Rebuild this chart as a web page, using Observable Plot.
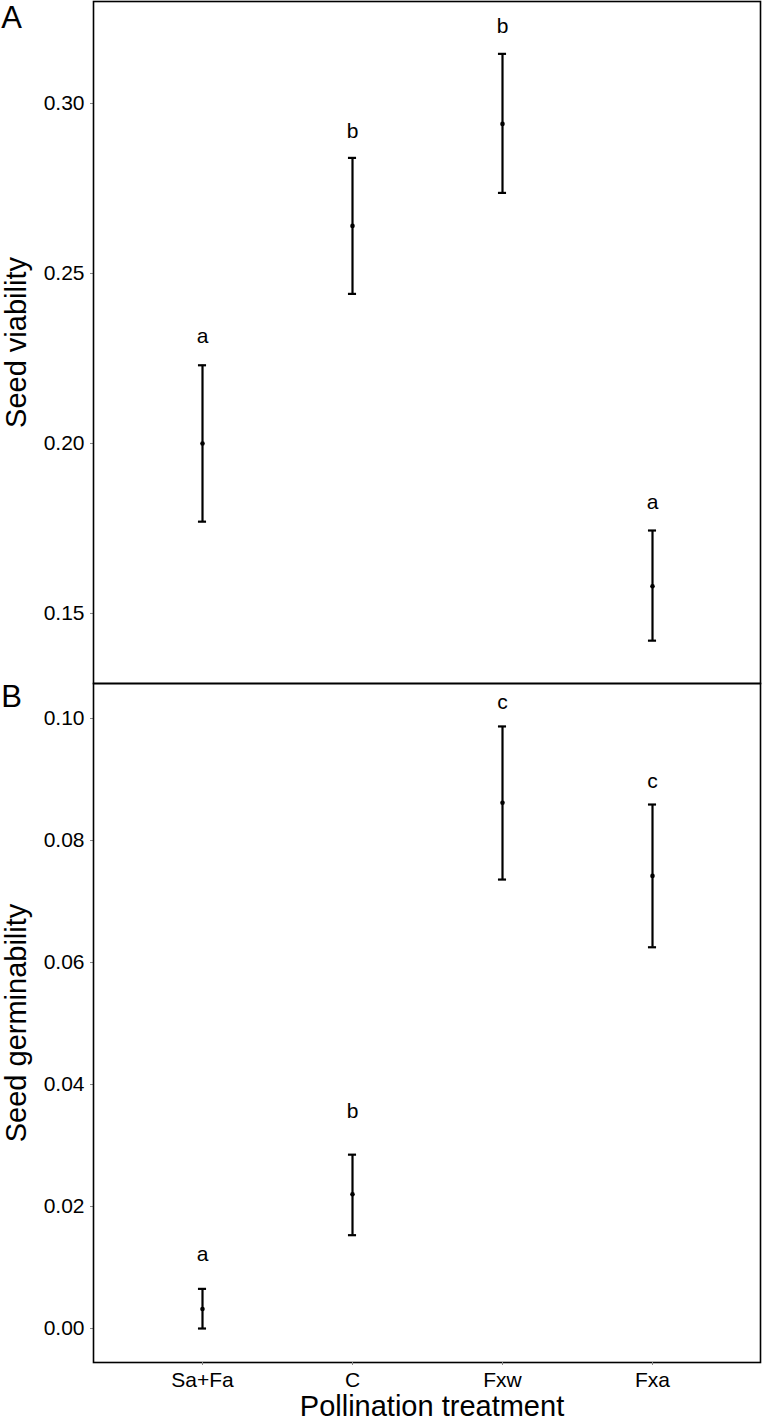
<!DOCTYPE html>
<html><head><meta charset="utf-8">
<script src="https://cdn.jsdelivr.net/npm/d3@7"></script>
<script src="https://cdn.jsdelivr.net/npm/@observablehq/plot@0.6"></script>
<style>
body{margin:0;background:#fff;}
#wrap{position:relative;width:762px;height:1425px;}
#wrap svg{position:absolute;left:0;overflow:visible;}
</style></head><body><div id="wrap"></div>
<script>
// ---- data ----
const treatments = ["Sa+Fa", "C", "Fxw", "Fxa"];

const viabilityMean = [0.200, 0.264, 0.294, 0.158];
const viabilityLow  = [0.177, 0.244, 0.2737, 0.142];
const viabilityHigh = [0.223, 0.284, 0.3146, 0.1744];
const viabilityLetters = ["a", "b", "b", "a"];
const viabilityLetterY = [0.2315, 0.2918, 0.3228, 0.1826];
const viabilityTicks = [0.15, 0.20, 0.25, 0.30];
const viabilityDomain = [0.1294, 0.3300];

const germMean = [0.0032, 0.0220, 0.0862, 0.0742];
const germLow  = [0.0000, 0.0153, 0.0736, 0.0625];
const germHigh = [0.0065, 0.0285, 0.0987, 0.0859];
const germLetters = ["a", "b", "c", "c"];
const germLetterY = [0.01225, 0.0356, 0.1027, 0.0897];
const germTicks = [0.00, 0.02, 0.04, 0.06, 0.08, 0.10];
const germDomain = [-0.00557, 0.10574];

// ---- layout ----
const W = 762, ML = 93, MR = 2;
const FONT = "'Liberation Sans', Arial, Helvetica, sans-serif";
const paddingOuter = 0.21;
const bandwidth = (W - ML - MR) / (treatments.length + 2 * paddingOuter);
const capWidth = 9;
const capInset = (bandwidth - capWidth) / 2;

function rowsOf(mean, low, high, letters, letterY) {
  return treatments.map((t, i) => ({t, m: mean[i], lo: low[i], hi: high[i], letter: letters[i], ly: letterY[i]}));
}

function panel({rows, domain, ticks, height, marginTop, marginBottom, yLabel, letter, letterDy, xAxis}) {
  const marks = [
    Plot.ruleX(rows, {x: "t", y1: "lo", y2: "hi", stroke: "#000", strokeWidth: 2.2}),
    Plot.tickY(rows, {x: "t", y: "lo", stroke: "#000", strokeWidth: 2.2, insetLeft: capInset, insetRight: capInset}),
    Plot.tickY(rows, {x: "t", y: "hi", stroke: "#000", strokeWidth: 2.2, insetLeft: capInset, insetRight: capInset}),
    Plot.dot(rows, {x: "t", y: "m", r: 2.3, fill: "#000", stroke: null}),
    Plot.text(rows, {x: "t", y: "ly", text: "letter", fontSize: 21, fill: "#000", lineAnchor: "middle"}),
    Plot.axisY({ticks, tickFormat: d3.format(".2f"), tickSize: 3, tickPadding: 6, fontSize: 21, stroke: "#888", fill: "#000", label: null}),
    Plot.text([yLabel], {frameAnchor: "left", dx: -68, rotate: -90, textAnchor: "middle", lineAnchor: "bottom", fontSize: 29, fill: "#000"}),
    Plot.text([letter], {frameAnchor: "top-left", dx: -82, dy: letterDy, textAnchor: "middle", lineAnchor: "middle", fontSize: 31, fill: "#000"}),
    Plot.frame({stroke: "#000", strokeWidth: 1.6})
  ];
  if (xAxis) {
    marks.push(Plot.axisX({tickSize: 3, tickPadding: 7, fontSize: 21, stroke: "#888", fill: "#000", label: null}));
    marks.push(Plot.text(["Pollination treatment"], {frameAnchor: "bottom", dx: 5, dy: 53, textAnchor: "middle", lineAnchor: "bottom", fontSize: 29, fill: "#000"}));
  }
  return Plot.plot({
    width: W, height, marginLeft: ML, marginRight: MR, marginTop, marginBottom,
    style: {fontFamily: FONT, background: "transparent", overflow: "visible"},
    x: {type: "band", domain: treatments, paddingInner: 0, paddingOuter, axis: null},
    y: {domain, axis: null},
    marks
  });
}

const wrap = document.getElementById("wrap");

const pA = panel({
  rows: rowsOf(viabilityMean, viabilityLow, viabilityHigh, viabilityLetters, viabilityLetterY),
  domain: viabilityDomain, ticks: viabilityTicks,
  height: 684, marginTop: 1, marginBottom: 1,
  yLabel: "Seed viability", letter: "A", letterDy: 17, xAxis: false
});
pA.style.top = "0px";

const pB = panel({
  rows: rowsOf(germMean, germLow, germHigh, germLetters, germLetterY),
  domain: germDomain, ticks: germTicks,
  height: 742, marginTop: 0, marginBottom: 63,
  yLabel: "Seed germinability", letter: "B", letterDy: 14, xAxis: true
});
pB.style.top = "683px";

wrap.appendChild(pB);
wrap.appendChild(pA);
</script>
</body></html>
